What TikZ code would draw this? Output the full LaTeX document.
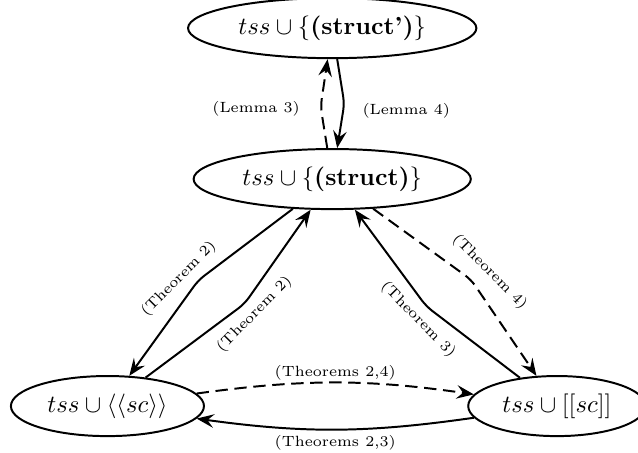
\documentclass[tikz,border=0pt]{standalone}
\usepackage{amssymb}
\usepackage{tikz}
\usetikzlibrary{matrix,calc,shapes.geometric}
\usetikzlibrary{arrows.meta}

\tikzset{
	state/.style={ellipse, draw, thick, inner xsep=3.3pt, inner ysep=3.6pt},
	lbl/.style={font=\fontsize{6}{7}\selectfont, inner sep=0pt},
	kink/.style 2 args={rounded corners=3pt, to path={-- ($(\tikztostart)!#1!(\tikztotarget)!#2!90:(\tikztotarget)$) -- (\tikztotarget) \tikztonodes}},
	dashedge/.style={dash pattern=on 5pt off 2.7pt}
}

\begin{document}
\begin{tikzpicture}[>={Stealth[length=7pt,width=5.5pt,inset=2.6pt]}, thick]
\matrix (m) [matrix of math nodes, row sep={61.1pt,between origins}, column sep={91pt,between origins}, nodes={state}]
{
	& tss \cup \{\textbf{(struct')}\} & \\
	& tss \cup \{\textbf{(struct)}\} & \\[30.8pt]
	tss \cup \langle\langle sc \rangle\rangle & & tss \cup [[sc]] \\
};
\path[->]

(m-2-2) edge [dashedge, kink={.48}{4.7pt}] node [lbl, left=8pt, yshift=-1pt, pos=0] {(Lemma 3)} (m-1-2)
(m-1-2) edge [kink={.5}{4.9pt}] node [lbl, right=7pt, yshift=-3pt, pos=0] {(Lemma 4)} (m-2-2)
(m-2-2) edge [kink={.52}{-9.7pt}] (m-3-1)
	edge [dashedge, kink={.53}{11.3pt}] (m-3-3)
(m-3-1) edge [kink={.53}{-10.3pt}] (m-2-2)
	edge [dashedge, bend left=8] node [lbl, above=0.5pt] {(Theorems 2,4)} (m-3-3)
(m-3-3) edge [kink={.51}{9.2pt}] (m-2-2)
	edge [bend left=8] node [lbl, below=2pt] {(Theorems 2,3)} (m-3-1);

% sloped labels along the diagonals
\path (m-3-1) -- node [lbl, sloped, above=12.3pt, pos=.42] {(Theorem 2)}
	node [lbl, sloped, below=12.7pt, pos=.54] {(Theorem 2)} (m-2-2);
\path (m-2-2) -- node [lbl, sloped, below=11.9pt, pos=.5] {(Theorem 3)}
	node [lbl, sloped, above=15.5pt, pos=.57] {(Theorem 4)} (m-3-3);

\pgfresetboundingbox
\path[use as bounding box] ($(m-3-1.center)+(-43.5pt,164.4pt)$) rectangle ++(258.3pt,-183.4pt);
\end{tikzpicture}
\end{document}
